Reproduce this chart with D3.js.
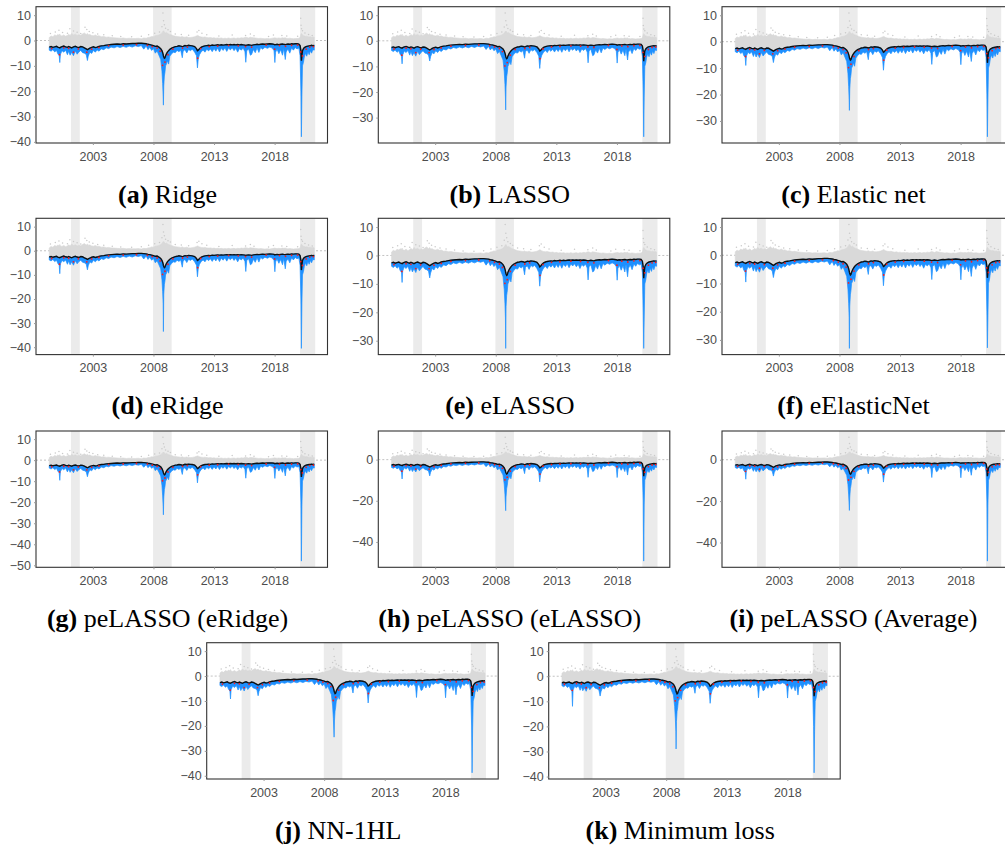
<!DOCTYPE html>
<html>
<head>
<meta charset="utf-8">
<script src="https://cdn.jsdelivr.net/npm/d3@7"></script>
<style>
  body { margin: 0; background: #fff; }
  svg { display: block; }
</style>
</head>
<body>
<svg id="fig" width="1005" height="847"></svg>
<script>
// ---- data (decimal years) ----
var dates = [
  1999.40,1999.55,1999.70,1999.85,2000.00,2000.10,2000.22,2000.27,2000.32,2000.45,
  2000.60,2000.75,2000.90,2001.00,2001.12,2001.25,2001.40,2001.55,2001.70,2001.85,
  2002.00,2002.15,2002.30,2002.45,2002.55,2002.62,2002.75,2002.90,2003.05,2003.20,
  2003.35,2003.50,2003.70,2003.90,2004.10,2004.30,2004.50,2004.75,2005.00,2005.25,
  2005.50,2005.75,2006.00,2006.25,2006.50,2006.75,2007.00,2007.20,2007.40,2007.55,
  2007.70,2007.85,2008.00,2008.15,2008.30,2008.45,2008.60,2008.70,2008.76,2008.80,
  2008.82,2008.85,2008.90,2008.95,2009.00,2009.08,2009.15,2009.25,2009.35,2009.50,
  2009.65,2009.80,2009.95,2010.10,2010.25,2010.38,2010.45,2010.60,2010.75,2010.90,
  2011.05,2011.20,2011.40,2011.55,2011.63,2011.70,2011.80,2011.95,2012.10,2012.25,
  2012.40,2012.55,2012.70,2012.85,2013.00,2013.15,2013.30,2013.45,2013.60,2013.75,
  2013.90,2014.05,2014.20,2014.35,2014.50,2014.65,2014.80,2014.95,2015.10,2015.25,
  2015.40,2015.55,2015.62,2015.70,2015.85,2016.00,2016.10,2016.25,2016.40,2016.55,
  2016.70,2016.85,2017.00,2017.20,2017.40,2017.60,2017.80,2017.95,2018.02,2018.08,
  2018.20,2018.35,2018.50,2018.65,2018.75,2018.88,2018.95,2019.10,2019.25,2019.40,
  2019.55,2019.70,2019.85,2020.00,2020.10,2020.17,2020.21,2020.25,2020.30,2020.38,
  2020.45,2020.55,2020.65,2020.75,2020.85,2020.95,2021.05,2021.15,2021.27
];

// black line (central path)
var blackLine = [
  -2.6,-2.4,-2.7,-2.5,-2.3,-2.6,-2.8,-2.9,-2.7,-2.4,
  -2.2,-2.5,-2.7,-2.4,-2.6,-2.9,-2.5,-2.3,-2.6,-2.8,
  -2.4,-2.5,-2.9,-3.3,-3.6,-3.4,-3.0,-2.7,-2.5,-2.8,
  -2.6,-2.3,-2.1,-2.0,-1.8,-1.7,-1.6,-1.5,-1.4,-1.5,
  -1.3,-1.4,-1.3,-1.2,-1.2,-1.1,-1.1,-1.2,-1.3,-1.5,
  -1.6,-1.8,-2.0,-2.3,-2.2,-2.6,-3.2,-4.0,-4.8,-5.5,
  -6.0,-6.5,-7.0,-6.8,-6.0,-5.2,-4.6,-4.0,-3.5,-3.0,
  -2.7,-2.4,-2.3,-2.1,-2.2,-2.4,-2.3,-2.0,-2.1,-1.9,
  -2.0,-2.1,-2.4,-3.2,-4.0,-3.8,-3.2,-2.6,-2.3,-2.1,
  -2.0,-1.9,-2.0,-1.8,-1.9,-1.8,-1.7,-1.8,-1.7,-1.8,
  -1.7,-1.6,-1.7,-1.6,-1.7,-1.6,-1.7,-1.6,-1.7,-1.6,
  -1.7,-1.8,-1.9,-1.8,-1.7,-1.8,-1.9,-1.7,-1.6,-1.5,
  -1.6,-1.5,-1.4,-1.5,-1.4,-1.3,-1.4,-1.5,-1.7,-1.6,
  -1.5,-1.6,-1.5,-1.4,-1.5,-1.6,-1.5,-1.4,-1.5,-1.3,
  -1.4,-1.3,-1.3,-1.4,-2.0,-4.0,-8.0,-6.0,-4.0,-3.2,
  -2.8,-2.5,-2.3,-2.2,-2.1,-2.0,-1.9,-2.0,-1.9
];

// blue lower values (Ridge panel; spikes overridden per panel below)
var blueLow = [
  -3.8,-4.2,-3.6,-4.5,-3.9,-5.2,-6.0,-8.7,-5.5,-4.0,
  -4.6,-3.8,-5.6,-4.2,-5.8,-4.6,-6.0,-4.1,-5.4,-4.5,
  -3.9,-4.8,-5.0,-5.5,-7.9,-6.2,-4.6,-5.1,-3.9,-4.6,
  -3.7,-4.2,-3.3,-3.6,-2.9,-3.2,-2.6,-2.9,-2.4,-2.8,
  -2.3,-2.7,-2.2,-2.6,-2.1,-2.4,-2.0,-3.4,-2.2,-3.6,
  -2.7,-3.9,-3.2,-5.0,-4.1,-5.8,-7.5,-12.0,-17.0,-22.0,
  -25.5,-18.0,-14.0,-12.5,-10.0,-9.2,-8.0,-9.3,-6.2,-5.2,
  -4.6,-4.8,-3.9,-4.4,-3.8,-6.8,-4.2,-3.6,-4.9,-3.5,
  -4.0,-3.4,-4.6,-6.0,-10.8,-7.2,-5.6,-4.4,-3.8,-4.6,
  -3.4,-4.1,-3.3,-4.4,-3.2,-4.2,-3.0,-4.5,-3.1,-3.9,
  -2.9,-4.3,-3.0,-3.7,-2.9,-4.0,-3.1,-4.6,-3.2,-3.8,
  -3.0,-4.4,-8.6,-4.0,-3.3,-5.8,-5.5,-3.5,-4.8,-2.9,
  -4.7,-2.8,-3.4,-2.7,-3.1,-2.6,-3.0,-4.0,-8.7,-4.6,
  -3.4,-5.2,-3.6,-5.8,-3.2,-7.5,-4.5,-3.3,-5.0,-3.0,
  -3.8,-2.8,-3.3,-3.0,-6.0,-20.0,-38.0,-22.0,-10.0,-8.6,
  -6.5,-5.0,-6.2,-4.4,-5.6,-4.0,-5.0,-3.6,-3.8
];

// upper edge of the grey cloud of realised values
var greyHigh = [
  1.2,1.8,1.5,2.2,1.9,2.4,2.1,2.6,2.0,1.8,
  2.2,1.7,2.0,2.5,2.0,2.8,2.2,2.5,2.0,2.3,
  2.1,2.6,3.0,2.4,2.8,2.3,2.4,2.0,1.9,2.2,
  1.8,1.9,1.5,1.6,1.3,1.4,1.2,1.1,1.0,0.9,
  1.0,0.8,0.9,0.8,0.8,0.9,0.7,1.0,0.9,1.2,
  1.3,1.6,1.5,1.9,2.0,2.2,2.6,3.0,3.4,3.8,
  3.6,3.8,3.4,3.2,3.0,3.2,2.9,2.6,2.4,2.2,
  1.9,1.7,1.6,1.5,1.4,1.6,1.4,1.3,1.5,1.2,
  1.2,1.3,1.5,1.8,2.0,1.9,1.6,1.4,1.3,1.4,
  1.2,1.1,1.2,1.0,1.1,0.9,1.0,0.9,1.0,0.8,
  0.9,0.8,1.0,0.8,0.9,1.0,0.8,1.0,0.9,1.1,
  1.0,1.2,1.3,1.2,1.0,1.3,1.2,1.1,1.0,0.9,
  0.8,0.9,0.8,0.7,0.8,0.7,0.9,1.0,1.1,1.0,
  0.9,1.0,0.9,1.1,1.0,1.1,0.9,0.8,0.9,0.8,
  0.7,0.8,0.8,0.9,1.2,2.4,2.8,2.6,2.2,1.9,
  1.8,1.6,1.7,1.5,1.4,1.5,1.3,1.4,1.2
];

// scattered grey outliers [year, value]
var greyDots = [
  [1999.5,2.8],[1999.9,3.4],[2000.2,4.1],[2000.5,3.2],[2000.9,2.9],[2001.1,4.6],
  [2001.4,3.8],[2001.7,3.3],[2002.0,2.8],[2002.35,5.2],[2002.5,4.3],[2002.7,3.6],
  [2003.0,3.1],[2003.4,2.6],[2003.9,2.3],[2004.6,1.9],[2005.3,1.6],[2006.2,1.5],
  [2007.0,1.7],[2007.6,2.3],[2008.1,2.9],[2008.5,3.4],[2008.7,5.4],[2008.78,10.9],
  [2008.83,7.8],[2008.9,6.2],[2009.0,4.8],[2009.2,4.2],[2009.4,3.6],[2009.8,2.6],
  [2010.3,2.4],[2010.9,2.1],[2011.6,3.4],[2011.75,4.0],[2012.0,2.9],[2012.4,2.3],
  [2013.4,1.8],[2014.5,2.2],[2015.6,2.0],[2016.0,2.6],[2016.3,1.9],[2017.5,1.6],
  [2017.9,2.2],[2018.6,2.0],[2019.0,1.8],[2019.9,1.7],[2020.15,8.8],[2020.18,6.0],
  [2020.22,4.6],[2020.3,3.9],[2020.5,3.0],[2020.8,2.4],[2021.1,2.0]
];

// red points [year, value]
var redDots = [
  [1999.6,-3.2],[2000.25,-5.6],[2000.6,-2.9],[2001.0,-3.1],[2001.4,-4.6],[2001.8,-3.3],
  [2002.5,-4.6],[2002.9,-3.4],[2003.5,-2.8],[2004.3,-2.1],[2005.5,-1.8],[2006.6,-1.6],
  [2007.5,-1.9],[2007.9,-2.4],[2008.3,-3.0],[2008.55,-4.2],[2008.75,-9.8],[2008.95,-8.5],
  [2009.2,-5.6],[2009.6,-3.4],[2010.4,-3.0],[2010.8,-2.6],[2011.65,-7.0],[2011.9,-3.2],
  [2012.6,-2.4],[2013.3,-2.2],[2014.2,-2.0],[2015.0,-2.1],[2015.6,-2.4],[2016.1,-2.6],
  [2017.3,-1.8],[2018.0,-3.4],[2018.4,-2.0],[2018.9,-2.3],[2019.4,-1.9],[2019.9,-1.8],
  [2020.15,-4.5],[2020.3,-6.1],[2020.6,-3.4],[2020.9,-2.6],[2021.2,-2.4]
];

// recession shading
var recessionStart = [2001.19, 2007.97, 2020.10];
var recessionEnd   = [2001.92, 2009.50, 2021.35];

// panels
var panelLetters = ["a","b","c","d","e","f","g","h","i","j","k"];
var panelNames = ["Ridge","LASSO","Elastic net","eRidge","eLASSO","eElasticNet",
  "peLASSO (eRidge)","peLASSO (eLASSO)","peLASSO (Average)","NN-1HL","Minimum loss"];
var spike2000 = [-8.7,-9.0,-9.0,-9.5,-9.5,-9.5,-9.6,-9.4,-9.4,-9.2,-12.0];
var spike2008 = [-25.5,-27.0,-26.0,-33.5,-32.7,-33.0,-26.0,-24.8,-24.5,-24.5,-29.0];
var spike2020 = [-38.0,-37.5,-36.0,-40.5,-32.7,-32.8,-48.0,-49.3,-49.0,-38.8,-38.5];
var xTicks = [2003, 2008, 2013, 2018];
var yTickSets = [
  [10,0,-10,-20,-30,-40],
  [10,0,-10,-20,-30],
  [10,0,-10,-20,-30],
  [10,0,-10,-20,-30,-40],
  [10,0,-10,-20,-30],
  [10,0,-10,-20,-30],
  [10,0,-10,-20,-30,-40,-50],
  [0,-20,-40],
  [0,-20,-40],
  [10,0,-10,-20,-30,-40],
  [10,0,-10,-20,-30,-40]
];

// ---- layout ----
var fig = d3.select("#fig");
var W = 291.5, H = 136.3;
var colLeft = [36, 378.3, 722];
var rowTop = [6.7, 218.3, 431, 642.7];
var lastRowLeft = [206.7, 548.7];

var xExtent = d3.extent(dates);
var xPad = (xExtent[1] - xExtent[0]) * 0.05;
var idx = d3.range(dates.length);

function drawPanel(i) {
    var row = Math.floor(i / 3);
    var left = row < 3 ? colLeft[i % 3] : lastRowLeft[i - 9];
    var top = rowTop[row];

    // panel blue series: shared shape with this panel's spike depths
    var blue = blueLow.slice();
    blue[dates.indexOf(2000.27)] = spike2000[i];
    blue[dates.indexOf(2008.82)] = spike2008[i];
    blue[dates.indexOf(2020.21)] = spike2020[i];

    var vals = blue.concat(greyHigh, greyDots.map(d => d[1]), redDots.map(d => d[1]));
    var yExt = d3.extent(vals);
    var yPad = (yExt[1] - yExt[0]) * 0.05;

    var x = d3.scaleLinear()
        .domain([xExtent[0] - xPad, xExtent[1] + xPad])
        .range([0, W]);
    var y = d3.scaleLinear()
        .domain([yExt[0] - yPad, yExt[1] + yPad])
        .range([H, 0]);

    var g = fig.append("g").attr("transform", "translate(" + left + "," + top + ")");

    g.append("clipPath").attr("id", "clip" + i)
        .append("rect").attr("width", W).attr("height", H);
    var plot = g.append("g").attr("clip-path", "url(#clip" + i + ")");

    // recession bands
    plot.selectAll("rect.band")
        .data(d3.zip(recessionStart, recessionEnd))
        .join("rect")
        .attr("class", "band")
        .attr("x", d => x(d[0]))
        .attr("width", d => x(d[1]) - x(d[0]))
        .attr("y", 0)
        .attr("height", H)
        .attr("fill", "#ebebeb");

    // zero line
    plot.append("line")
        .attr("x1", 0).attr("x2", W)
        .attr("y1", y(0)).attr("y2", y(0))
        .attr("stroke", "#b3b3b3")
        .attr("stroke-width", 0.8)
        .attr("stroke-dasharray", "2,2");

    // grey cloud
    plot.append("path")
        .datum(idx)
        .attr("d", d3.area()
            .x(k => x(dates[k]))
            .y0(k => y(blackLine[k]))
            .y1(k => y(greyHigh[k])))
        .attr("fill", "#d9d9d9")
        .attr("stroke", "#d9d9d9")
        .attr("stroke-width", 0.6);

    plot.selectAll("circle.grey")
        .data(greyDots)
        .join("circle")
        .attr("class", "grey")
        .attr("cx", d => x(d[0]))
        .attr("cy", d => y(d[1]))
        .attr("r", 0.75)
        .attr("fill", "#cacaca");

    // blue band below the central path
    plot.append("path")
        .datum(idx)
        .attr("d", d3.area()
            .x(k => x(dates[k]))
            .y0(k => y(blue[k]))
            .y1(k => y(blackLine[k])))
        .attr("fill", "#1e90ff")
        .attr("stroke", "#1e90ff")
        .attr("stroke-width", 0.7)
        .attr("stroke-linejoin", "miter");

    // black line
    plot.append("path")
        .datum(idx)
        .attr("d", d3.line()
            .x(k => x(dates[k]))
            .y(k => y(blackLine[k])))
        .attr("fill", "none")
        .attr("stroke", "#111")
        .attr("stroke-width", 1.4);

    // red points
    plot.selectAll("circle.red")
        .data(redDots)
        .join("circle")
        .attr("class", "red")
        .attr("cx", d => x(d[0]))
        .attr("cy", d => y(d[1]))
        .attr("r", 0.9)
        .attr("fill", "#ff1a1a");

    // frame
    g.append("rect")
        .attr("width", W).attr("height", H)
        .attr("fill", "none")
        .attr("stroke", "#333")
        .attr("stroke-width", 1.1);

    // axes
    var xAxis = g.append("g")
        .attr("transform", "translate(0," + H + ")")
        .call(d3.axisBottom(x).tickValues(xTicks).tickFormat(d3.format("d"))
            .tickSize(2).tickPadding(7));
    var yAxis = g.append("g")
        .call(d3.axisLeft(y).tickValues(yTickSets[i]).tickSize(2).tickPadding(3));
    [xAxis, yAxis].forEach(function (ax) {
        ax.select(".domain").remove();
        ax.selectAll(".tick line").attr("stroke", "#999");
        ax.selectAll(".tick text")
            .attr("fill", "#4d4d4d")
            .style("font-family", "'Liberation Sans', Arial, sans-serif")
            .style("font-size", "12.5px");
    });

    // caption
    var cap = g.append("text")
        .attr("x", 131.5)
        .attr("y", 196)
        .attr("text-anchor", "middle")
        .style("font-family", "'Liberation Serif', 'Times New Roman', serif")
        .style("font-size", "26px")
        .attr("fill", "#000");
    cap.append("tspan").style("font-weight", "bold").text("(" + panelLetters[i] + ")");
    cap.append("tspan").text(" " + panelNames[i]);
}

panelNames.forEach(function (name, i) { drawPanel(i); });
</script>
</body>
</html>
